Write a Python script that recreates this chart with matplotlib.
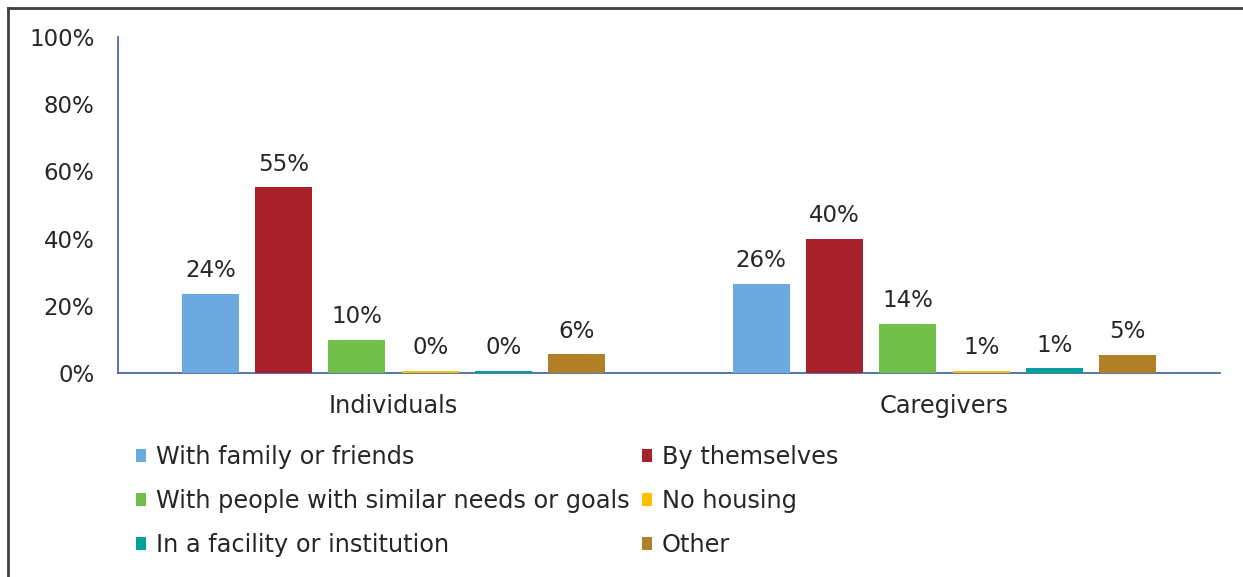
import numpy as np
import matplotlib.pyplot as plt
from matplotlib.patches import Patch
from matplotlib.lines import Line2D

groups = ["Individuals", "Caregivers"]
series = ["With family or friends", "By themselves",
          "With people with similar needs or goals", "No housing",
          "In a facility or institution", "Other"]
values = [
    [23.6, 26.5],   # With family or friends
    [55.3, 39.9],   # By themselves
    [9.8, 14.6],    # With people with similar needs or goals
    [0.6, 0.7],     # No housing
    [0.6, 1.4],     # In a facility or institution
    [5.6, 5.5],     # Other
]
labels = [
    ["24%", "26%"],
    ["55%", "40%"],
    ["10%", "14%"],
    ["0%", "1%"],
    ["0%", "1%"],
    ["6%", "5%"],
]
colors = ["#6CA9E0", "#A8202A", "#70BF4A", "#FFC000", "#00A09B", "#B08026"]
yticks = [0, 20, 40, 60, 80, 100]

W, H = 1243, 577
FS = 16.5     # numbers
FS_TXT = 17.3  # category names and legend
fig = plt.figure(figsize=(W / 100, H / 100), dpi=100)
ax = fig.add_axes([118 / W, 1 - 373 / H, (1220 - 118) / W, (373 - 37) / H])

x = np.arange(len(groups))
width = 0.103
step = 0.133
for i, (name, vals) in enumerate(zip(series, values)):
    pos = x + (i - 2.5) * step
    ax.bar(pos, vals, width, color=colors[i], label=name, zorder=3)
    for p, v, t in zip(pos, vals, labels[i]):
        ax.text(p, v + 6.9, t, ha="center", va="center",
                fontsize=FS, color="#262626")

ax.set_xlim(-0.5, 1.5)
ax.set_ylim(0, 100)
ax.set_yticks(yticks)
ax.set_yticklabels([f"{t}%" for t in yticks])
ax.set_xticks(x)
ax.set_xticklabels(groups)
ax.tick_params(axis="both", length=0, colors="#262626")
ax.tick_params(axis="y", pad=17, labelsize=FS)
ax.tick_params(axis="x", pad=15, labelsize=FS_TXT)
for s in ["top", "right"]:
    ax.spines[s].set_visible(False)
for s in ["left", "bottom"]:
    ax.spines[s].set_color("#4A6AA5")
    ax.spines[s].set_linewidth(1.3)
    ax.spines[s].set_zorder(2)

# legend filled row by row like the original
order = [0, 2, 4, 1, 3, 5]
handles = [Patch(facecolor=colors[k], edgecolor="none") for k in order]
fig.legend(handles, [series[k] for k in order], ncol=2, loc="upper left",
           bbox_to_anchor=(136 / W, 1 - 445 / H), frameon=False,
           borderpad=0, borderaxespad=0,
           fontsize=FS_TXT, handlelength=0.42, handleheight=0.42,
           handletextpad=0.42, columnspacing=0.5, labelspacing=0.83,
           labelcolor="#262626")

# figure border (top and left only, the rest is cropped)
fig.add_artist(Line2D([8 / W, 1], [1 - 8 / H, 1 - 8 / H],
                      transform=fig.transFigure, color="#404040", lw=2))
fig.add_artist(Line2D([8 / W, 8 / W], [0, 1 - 8 / H],
                      transform=fig.transFigure, color="#404040", lw=2))

fig.savefig("out.png", dpi=100)
